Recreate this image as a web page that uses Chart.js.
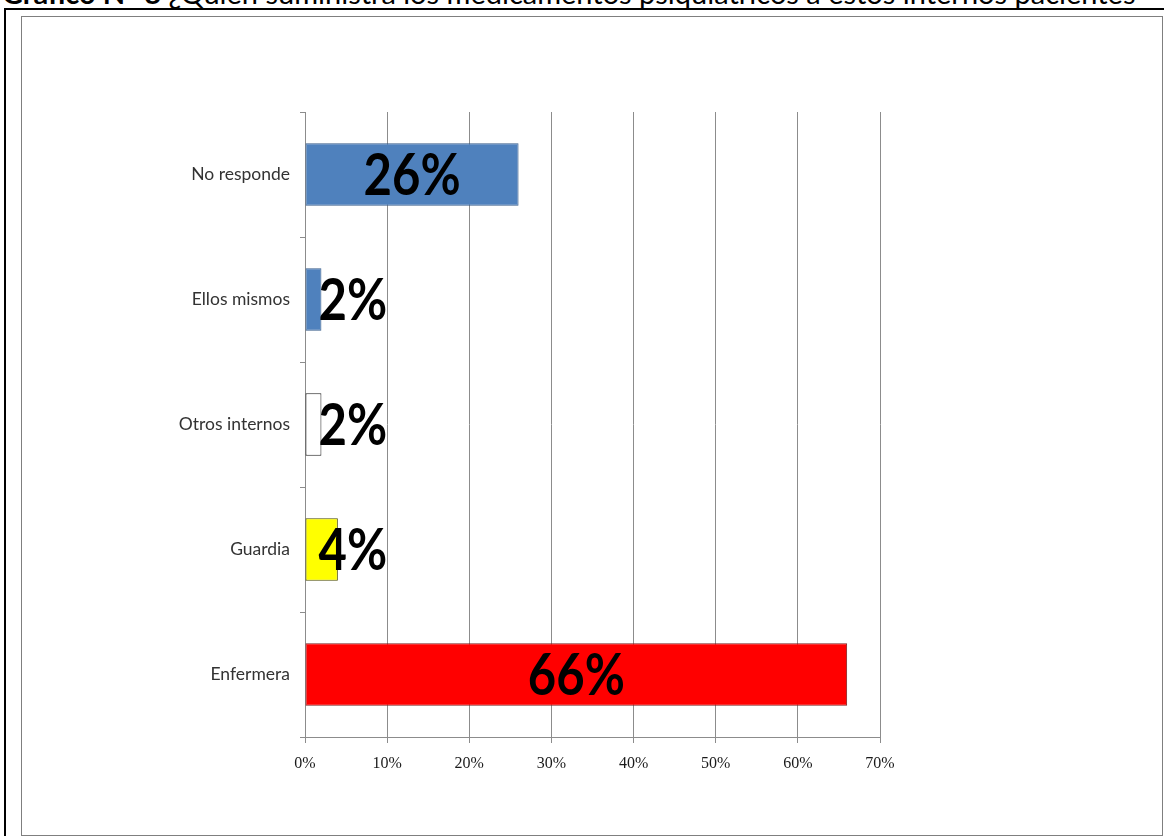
<!DOCTYPE html>
<html lang="es">
<head>
<meta charset="utf-8">
<title>Gráfico N° 8</title>
<script src="https://cdn.jsdelivr.net/npm/chart.js@4.4.1/dist/chart.umd.min.js"></script>
<style>
  html, body { margin: 0; padding: 0; background: #fff; }
  body { width: 1164px; height: 836px; position: relative; overflow: hidden; }
  #title {
    position: absolute; left: 2px; top: -24px; white-space: nowrap;
    font-family: Lato, "Open Sans", sans-serif; font-size: 29px; color: #000;
    line-height: 33px;
  }
  #title b { font-weight: bold; }
  #frameTop { position: absolute; left: 4px; top: 8px; width: 1160px; height: 2px; background: #000; }
  #frameLeft { position: absolute; left: 4px; top: 8px; width: 2px; height: 828px; background: #000; }
  #box { position: absolute; left: 21px; top: 16px; width: 1140px; height: 818px; border: 1px solid #7f7f7f; }
  #wrap { position: absolute; left: 0; top: 0; width: 1164px; height: 836px; }
</style>
</head>
<body>
<div id="title"><b>Gráfico N° 8</b> ¿Quién suministra los medicamentos psiquiátricos a estos internos pacientes</div>
<div id="frameTop"></div>
<div id="frameLeft"></div>
<div id="box"></div>
<div id="wrap"><canvas id="chart" width="1164" height="836"></canvas></div>
<script>
// Respuestas (de arriba hacia abajo) y porcentajes
const categories = ['No responde', 'Ellos mismos', 'Otros internos', 'Guardia', 'Enfermera'];
const percentages = [26, 2, 2, 4, 66];
const barColors = ['#4f81bd', '#4f81bd', '#ffffff', '#ffff00', '#ff0000'];
const barBorders = ['#385d8a', '#385d8a', '#1f1f1f', '#4d4d00', '#7f1f1f'];
const xTicks = [0, 10, 20, 30, 40, 50, 60, 70];

// Etiquetas grandes con el porcentaje sobre cada barra
const valueLabels = {
  id: 'valueLabels',
  afterDatasetsDraw(chart) {
    const ctx = chart.ctx;
    const meta = chart.getDatasetMeta(0);
    const sx = 0.86;
    ctx.save();
    ctx.font = 'bold 57px Lato, "Open Sans", sans-serif';
    ctx.fillStyle = '#000';
    ctx.textAlign = 'center';
    ctx.textBaseline = 'middle';
    meta.data.forEach((bar, i) => {
      const text = percentages[i] + '%';
      const w = ctx.measureText(text).width * sx;
      const left = bar.base;
      let cx = (bar.x + bar.base) / 2;
      const minCx = left + 13 + w / 2;
      if (cx < minCx) cx = minCx;
      ctx.save();
      ctx.translate(cx, bar.y + 2);
      ctx.scale(sx, 1);
      ctx.fillText(text, 0, 0);
      ctx.restore();
    });
    ctx.restore();
  }
};

new Chart(document.getElementById('chart'), {
  type: 'bar',
  data: {
    labels: categories,
    datasets: [{
      data: percentages,
      backgroundColor: barColors,
      borderColor: barBorders,
      borderWidth: 1,
      borderSkipped: false,
      barPercentage: 0.5,
      categoryPercentage: 1.0
    }]
  },
  options: {
    indexAxis: 'y',
    responsive: false,
    animation: false,
    layout: { padding: { top: 112, right: 284, left: 0, bottom: 0 } },
    plugins: { legend: { display: false }, tooltip: { enabled: false } },
    scales: {
      x: {
        min: 0, max: 70,
        afterBuildTicks(scale) { scale.ticks = xTicks.map(v => ({ value: v })); },
        afterFit(scale) { scale.height = 99; },
        border: { display: true, color: '#8c8c8c', width: 1 },
        grid: { color: '#8c8c8c', lineWidth: 1, drawTicks: true, tickLength: 6, tickColor: '#8c8c8c' },
        ticks: {
          padding: 11,
          color: '#1a1a1a',
          font: { family: '"Liberation Serif", "Times New Roman", serif', size: 16 },
          callback: v => v + '%'
        }
      },
      y: {
        afterFit(scale) { scale.width = 305; },
        border: { display: true, color: '#8c8c8c', width: 1 },
        grid: { display: true, drawOnChartArea: false, drawTicks: true, tickLength: 5, color: '#8c8c8c', offset: true },
        ticks: {
          padding: 10,
          color: '#333',
          font: { family: 'Lato, "Open Sans", sans-serif', size: 17.5 }
        }
      }
    }
  },
  plugins: [valueLabels]
});
</script>
</body>
</html>
